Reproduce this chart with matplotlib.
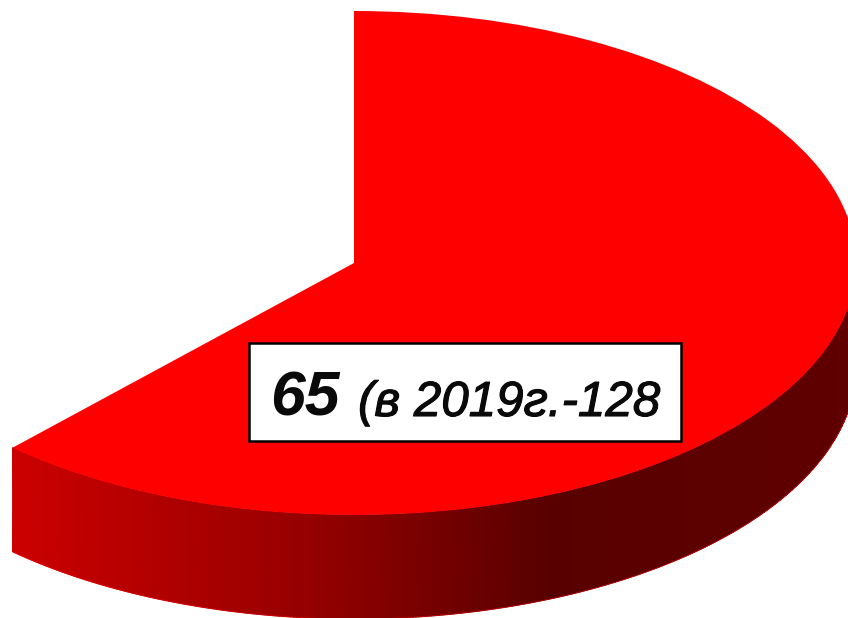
import numpy as np

from matplotlib import pyplot as plt

from matplotlib import patheffects

from matplotlib.colors import LinearSegmentedColormap

from matplotlib.patches import Rectangle

values = [65, 40]

main_label = '65'

note_label = '(в 2019г.-128'

side_stops = [0.0, 0.35, 0.64, 1.0]

side_colors = ['#cc0000', '#960000', '#580000', '#600000']


def _main():
    W, H = 848, 618

    # pie centre and tilted radii, in pixels of the picture
    cx, cy = 354, 263
    rx, ry = 502, 252
    depth = 104 / ry

    fig = plt.figure(figsize=(W / 100, H / 100), dpi=100)

    ax = fig.add_axes([0, 0, 1, 1])

    wedges, _ = ax.pie(values, startangle=90, counterclock=False, radius=1,
                       colors=['#ff0000', 'none'], wedgeprops={'linewidth': 0})

    wedges[1].set_visible(False)

    ax.set_aspect('auto')

    ax.set_xlim(-cx / rx, (W - cx) / rx)

    ax.set_ylim((cy - H) / ry, cy / ry)

    ax.axis('off')

    # outer wall of the slice, shaded from left to right
    end = 90 - 360 * values[0] / sum(values)

    theta = np.radians(np.linspace(end, 0, 400))

    x = np.cos(theta)

    y = np.sin(theta)

    X = np.vstack([x, x])

    Y = np.vstack([y, y - depth])

    C = (X - x.min()) / (x.max() - x.min())

    cmap = LinearSegmentedColormap.from_list('wall', list(zip(side_stops, side_colors)))

    ax.pcolormesh(X, Y, C, cmap=cmap, shading='gouraud', vmin=0, vmax=1, zorder=1)

    # thin light fringe along the lower rim
    ax.plot(x, y - depth, color='#ff0000', lw=0.5, alpha=0.7, zorder=1)

    wedges[0].set_zorder(2)

    # label box, positioned in picture pixels
    fig.add_artist(Rectangle((249 / W, 1 - 441 / H), 432 / W, 98 / H, transform=fig.transFigure,
                             facecolor='white', edgecolor='black', linewidth=1.8))

    fig.text(270.5 / W, 1 - 416 / H, main_label, family='Liberation Sans', style='italic',
             weight='bold', fontsize=45, color='#0a0a0a')

    note = fig.text(358 / W, 1 - 416 / H, note_label, family='Liberation Sans', style='italic',
                    fontsize=35.5, color='#0a0a0a')

    # the reference text is a little heavier than the regular face
    note.set_path_effects([patheffects.withStroke(linewidth=0.8, foreground='#0a0a0a')])

    fig.savefig('out.png', dpi=100)


if __name__ == '__main__':
    _main()
